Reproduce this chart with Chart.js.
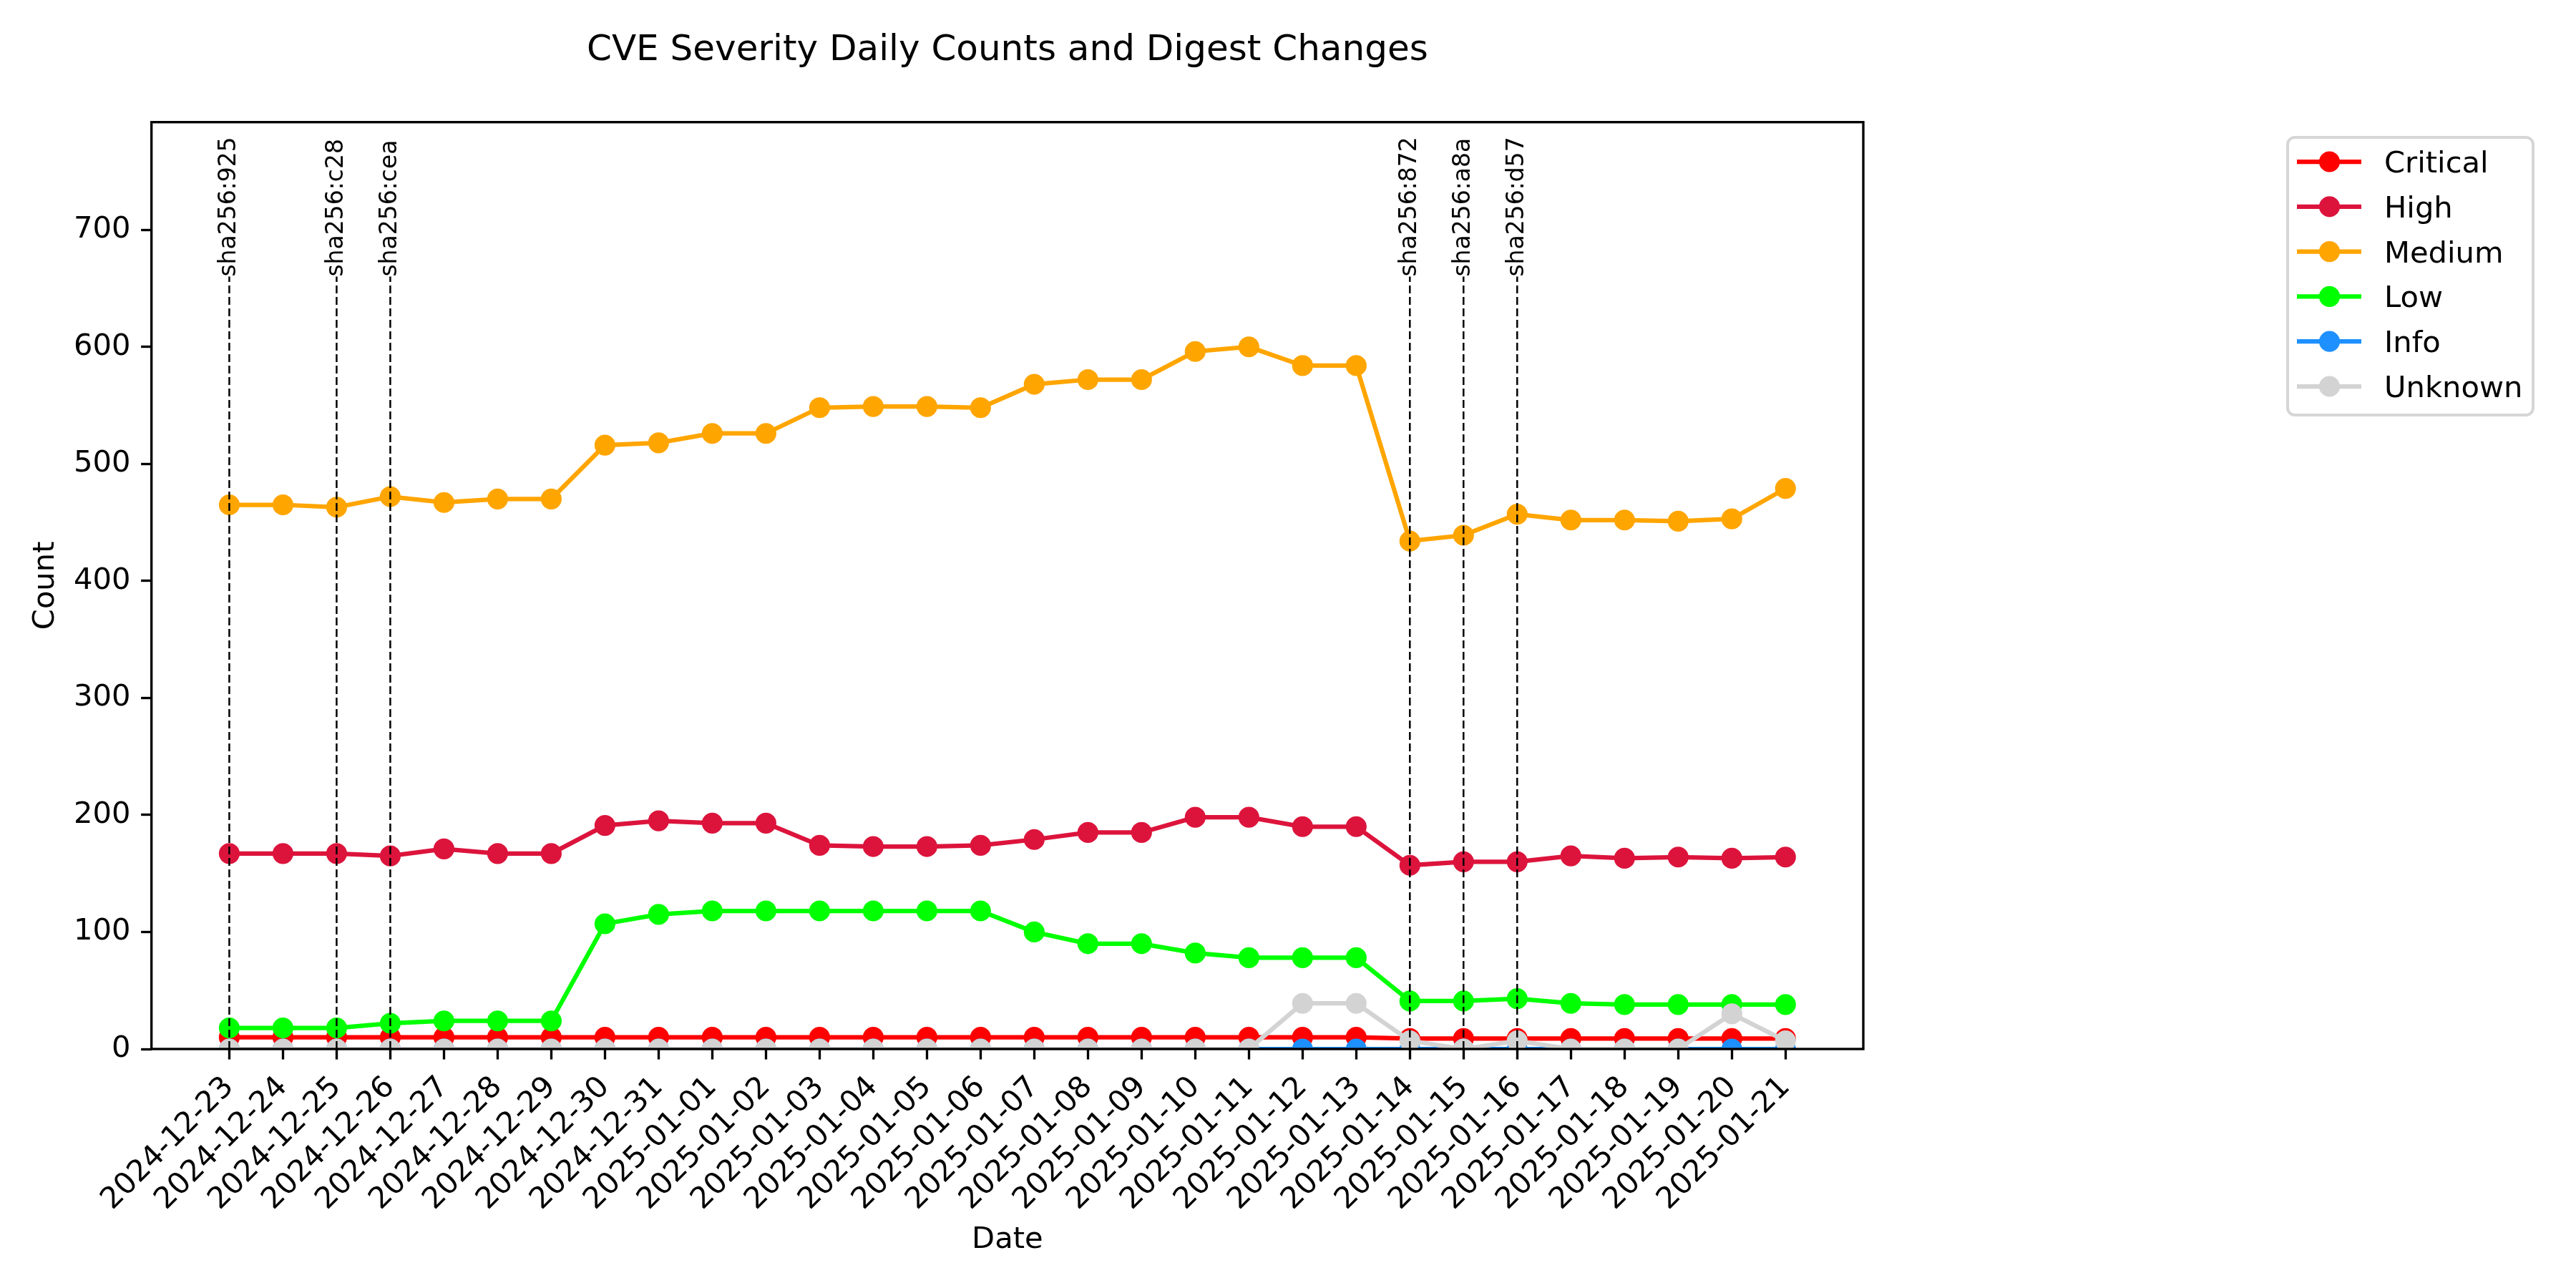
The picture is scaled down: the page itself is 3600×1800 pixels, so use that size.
<!DOCTYPE html>
<html>
<head>
<meta charset="utf-8">
<title>CVE Severity Daily Counts</title>
<script src="https://cdn.jsdelivr.net/npm/chart.js@4.4.1/dist/chart.umd.min.js"></script>
<style>
  html, body { margin: 0; padding: 0; background: #fff; }
  #wrap { width: 3600px; height: 1800px; }
</style>
</head>
<body>
<div id="wrap"><canvas id="grafico" width="3600" height="1800"></canvas></div>
<script>
// --- DATOS ---
const fechas = [
  '2024-12-23', '2024-12-24', '2024-12-25', '2024-12-26', '2024-12-27', '2024-12-28',
  '2024-12-29', '2024-12-30', '2024-12-31', '2025-01-01', '2025-01-02', '2025-01-03',
  '2025-01-04', '2025-01-05', '2025-01-06', '2025-01-07', '2025-01-08', '2025-01-09',
  '2025-01-10', '2025-01-11', '2025-01-12', '2025-01-13', '2025-01-14', '2025-01-15',
  '2025-01-16', '2025-01-17', '2025-01-18', '2025-01-19', '2025-01-20', '2025-01-21'
];

const critical = [10, 10, 10, 10, 10, 10, 10, 10, 10, 10, 10, 10, 10, 10, 10, 10, 10, 10, 10, 10, 10, 10, 9, 9, 9, 9, 9, 9, 9, 9];
const high     = [167, 167, 167, 165, 171, 167, 167, 191, 195, 193, 193, 174, 173, 173, 174, 179, 185, 185, 198, 198, 190, 190, 157, 160, 160, 165, 163, 164, 163, 164];
const medium   = [465, 465, 463, 472, 467, 470, 470, 516, 518, 526, 526, 548, 549, 549, 548, 568, 572, 572, 596, 600, 584, 584, 434, 439, 457, 452, 452, 451, 453, 479];
const low      = [18, 18, 18, 22, 24, 24, 24, 107, 115, 118, 118, 118, 118, 118, 118, 100, 90, 90, 82, 78, 78, 78, 41, 41, 43, 39, 38, 38, 38, 38];
const info     = [0, 0, 0, 0, 0, 0, 0, 0, 0, 0, 0, 0, 0, 0, 0, 0, 0, 0, 0, 0, 0, 0, 0, 0, 0, 0, 0, 0, 0, 0];
const unknown  = [0, 0, 0, 0, 0, 0, 0, 0, 0, 0, 0, 0, 0, 0, 0, 0, 0, 0, 0, 0, 39, 39, 7, 0, 7, 0, 0, 0, 30, 7];

const yTicks = [0, 100, 200, 300, 400, 500, 600, 700];
const Y_MAX = 792;

// cambios de digest (lineas verticales hasta la etiqueta)
const digestFechas    = ['2024-12-23', '2024-12-25', '2024-12-26', '2025-01-14', '2025-01-15', '2025-01-16'];
const digestEtiquetas = ['sha256:925', 'sha256:c28', 'sha256:cea', 'sha256:872', 'sha256:a8a', 'sha256:d57'];
const Y_ETIQUETA = 660;

const series = [
  { nombre: 'Critical', valores: critical, color: '#ff0000' },
  { nombre: 'High',     valores: high,     color: '#dc143c' },
  { nombre: 'Medium',   valores: medium,   color: '#ffa500' },
  { nombre: 'Low',      valores: low,      color: '#00ff00' },
  { nombre: 'Info',     valores: info,     color: '#1e90ff' },
  { nombre: 'Unknown',  valores: unknown,  color: '#d3d3d3' }
];

const FUENTE = 'DejaVu Sans';
const PT = 300 / 72;   // el original esta a 300 dpi
Chart.defaults.font.family = FUENTE;
Chart.defaults.color = '#000';

// --- PLUGIN: lineas de digest + marco de ejes ---
const marcasPlugin = {
  id: 'marcas',
  afterDatasetsDraw(chart) {
    const { ctx, chartArea: a, scales: { x, y } } = chart;
    const yBase = y.getPixelForValue(0);
    const yTope = y.getPixelForValue(Y_ETIQUETA);

    ctx.save();
    ctx.beginPath();
    ctx.rect(a.left, a.top, a.right - a.left, a.bottom - a.top);
    ctx.clip();
    ctx.strokeStyle = '#000';
    ctx.lineWidth = 2.5;
    ctx.setLineDash([11, 5]);
    digestFechas.forEach((f) => {
      const px = x.getPixelForValue(fechas.indexOf(f));
      ctx.beginPath();
      ctx.moveTo(px, yBase);
      ctx.lineTo(px, yTope);
      ctx.stroke();
    });
    ctx.restore();

    ctx.save();
    ctx.fillStyle = '#000';
    ctx.font = `33px "${FUENTE}"`;
    ctx.textAlign = 'left';
    ctx.textBaseline = 'middle';
    digestFechas.forEach((f, k) => {
      const px = x.getPixelForValue(fechas.indexOf(f));
      ctx.save();
      ctx.translate(px, yTope);
      ctx.rotate(-Math.PI / 2);
      ctx.fillText(digestEtiquetas[k], 0, 0);
      ctx.restore();
    });
    ctx.restore();

    // marco completo (spines de matplotlib)
    ctx.save();
    ctx.strokeStyle = '#000';
    ctx.lineWidth = 0.8 * PT;
    ctx.strokeRect(a.left, a.top, a.right - a.left, a.bottom - a.top);
    ctx.restore();
  }
};

// --- PLUGIN: leyenda fuera del grafico ---
const leyendaPlugin = {
  id: 'leyenda',
  afterDraw(chart) {
    const ctx = chart.ctx;
    const x0 = 3197, y0 = 192, w = 343, h = 388, r = 10;
    ctx.save();
    ctx.beginPath();
    ctx.roundRect(x0, y0, w, h, r);
    ctx.fillStyle = 'rgba(255,255,255,0.8)';
    ctx.fill();
    ctx.strokeStyle = '#d6d6d6';
    ctx.lineWidth = 4;
    ctx.stroke();

    ctx.font = `${10 * PT}px "${FUENTE}"`;
    ctx.textAlign = 'left';
    ctx.textBaseline = 'alphabetic';
    chart.data.datasets.forEach((ds, i) => {
      const cy = 226 + i * 62.8;
      ctx.strokeStyle = ds.borderColor;
      ctx.lineWidth = 1.5 * PT;
      ctx.beginPath();
      ctx.moveTo(3210, cy);
      ctx.lineTo(3300, cy);
      ctx.stroke();
      ctx.beginPath();
      ctx.arc(3255.5, cy, 3 * PT, 0, Math.PI * 2);
      ctx.fillStyle = ds.borderColor;
      ctx.fill();
      ctx.lineWidth = PT;
      ctx.stroke();
      ctx.fillStyle = '#000';
      ctx.fillText(ds.label, 3332, cy + 15);
    });
    ctx.restore();
  }
};

const gridEjes = {
  display: true,
  drawOnChartArea: false,
  drawTicks: true,
  tickLength: 3.5 * PT,
  tickWidth: 0.8 * PT,
  tickColor: '#000'
};

new Chart(document.getElementById('grafico'), {
  type: 'line',
  data: {
    datasets: series.map((s, i) => ({
      label: s.nombre,
      data: s.valores.map((v, k) => ({ x: k, y: v })),
      borderColor: s.color,
      backgroundColor: s.color,
      pointBackgroundColor: s.color,
      pointBorderColor: s.color,
      borderWidth: 1.5 * PT,
      pointRadius: 3 * PT,
      pointBorderWidth: PT,
      pointHoverRadius: 3 * PT,
      tension: 0,
      fill: false,
      clip: 0,
      order: series.length - i
    }))
  },
  options: {
    responsive: false,
    animation: false,
    devicePixelRatio: 1,
    events: [],
    layout: { padding: { left: 0, right: 996, top: 0, bottom: 0 } },
    plugins: {
      legend: { display: false },
      tooltip: { enabled: false },
      title: {
        display: true,
        text: 'CVE Severity Daily Counts and Digest Changes',
        fullSize: false,
        color: '#000',
        font: { size: 12 * PT, weight: 'normal' },
        padding: { top: 41, bottom: 69.7 }
      }
    },
    scales: {
      x: {
        type: 'linear',
        min: -1.45,
        max: 30.45,
        afterBuildTicks: (s) => { s.ticks = fechas.map((f, i) => ({ value: i })); },
        afterFit: (s) => { s.height = 334; },
        ticks: {
          autoSkip: false,
          minRotation: 45,
          maxRotation: 45,
          padding: 3.5 * PT,
          font: { size: 10 * PT },
          callback: (v) => fechas[v] ?? ''
        },
        grid: gridEjes,
        border: { display: false },
        title: { display: true, text: 'Date', font: { size: 10 * PT }, padding: { top: 0, bottom: 42 } }
      },
      y: {
        min: 0,
        max: Y_MAX,
        afterBuildTicks: (s) => { s.ticks = yTicks.map((v) => ({ value: v })); },
        afterFit: (s) => { s.width = 211.7; },
        ticks: { padding: 3.5 * PT, font: { size: 10 * PT } },
        grid: gridEjes,
        border: { display: false },
        title: { display: true, text: 'Count', font: { size: 10 * PT }, padding: { top: 39, bottom: 0 } }
      }
    }
  },
  plugins: [marcasPlugin, leyendaPlugin]
});
</script>
</body>
</html>
